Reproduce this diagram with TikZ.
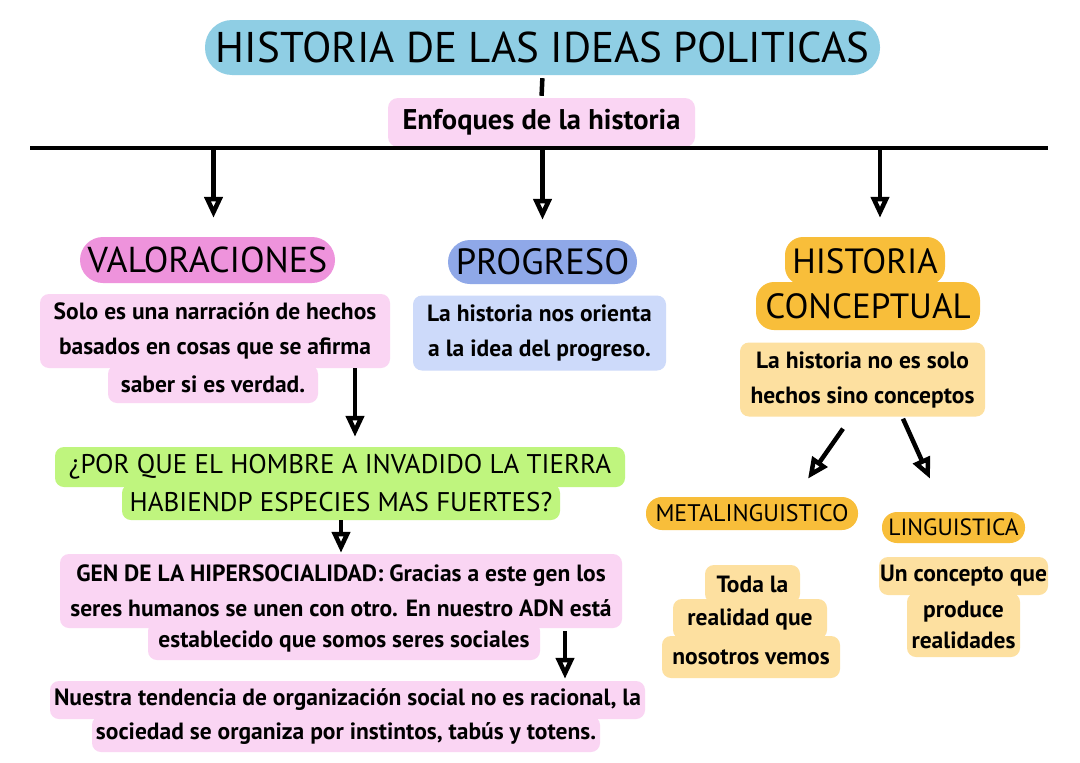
\documentclass[tikz,border=0pt]{standalone}
\usepackage{fontspec}
\setmainfont{PT Sans}
\usetikzlibrary{arrows.meta}
\newlength{\du}
\setlength{\du}{1pt}
\definecolor{titleblue}{RGB}{143,206,228}
\definecolor{pinklight}{RGB}{250,213,243}
\definecolor{orchid}{RGB}{238,147,220}
\definecolor{periwinkle}{RGB}{143,168,232}
\definecolor{paleblue}{RGB}{205,218,250}
\definecolor{orangehl}{RGB}{248,190,58}
\definecolor{paleorange}{RGB}{253,224,160}
\definecolor{limehl}{RGB}{191,245,126}
\begin{document}
\begin{tikzpicture}[x=1\du,y=-1\du,
  box/.style={inner sep=0pt,align=center,text=black},
  pill/.style={box,rounded corners=#1},
  txt/.style={font=\bfseries\fontsize{23.5\du}{35\du}\selectfont},
  head/.style={font=\fontsize{#1}{#1}\selectfont},
  arr/.style={line width=4.5\du,line join=round,
    -{Triangle[open,length=21pt,width=18pt]}}]
\useasboundingbox[fill=white] (0,0) rectangle (1080,763);
% top of the map
\node[pill=27\du,fill=titleblue,minimum width=675\du,minimum height=55\du,head=43\du] (title) at (542.5,47.5) {HISTORIA DE LAS IDEAS POLITICAS};
\node[pill=10\du,fill=pinklight,minimum width=307\du,minimum height=49\du,font=\bfseries\fontsize{28.5\du}{28\du}\selectfont] (enfoques) at (541.5,122.5) {Enfoques de la historia};
\draw[line width=4.5\du,shorten <=3\du,shorten >=2\du] (title.south) -- (enfoques.north);
\coordinate (barL) at (30,148);
\coordinate (barR) at (1048,148);
\draw[line width=4\du] (barL) -- (barR);
% first column
\node[pill=23\du,fill=orchid,minimum width=255\du,minimum height=46\du,head=36\du] (valor) at (207.5,260) {VALORACIONES};
\node[pill=9\du,fill=pinklight,minimum width=350\du,minimum height=74\du,txt] (valAB) at (215,331) {Solo es una narración de hechos\\basados en cosas que se afirma};
\node[pill=9\du,fill=pinklight,minimum width=210\du,minimum height=38\du,txt] (valC) at (213,384) {saber si es verdad.};
% second column
\node[pill=22\du,fill=periwinkle,minimum width=189\du,minimum height=44\du,head=36.5\du] (prog) at (542.5,262) {PROGRESO};
\node[pill=9\du,fill=paleblue,minimum width=253\du,minimum height=75\du,txt] (progTxt) at (539.5,333) {La historia nos orienta\\a la idea del progreso.};
% third column
\node[pill=18\du,fill=orangehl,minimum width=160\du,minimum height=48\du,head=35\du] (conceptA) at (865,261) {HISTORIA};
\node[pill=18\du,fill=orangehl,minimum width=224\du,minimum height=48\du,head=35\du] (conceptB) at (868,306) {CONCEPTUAL};
\node[pill=9\du,fill=paleorange,minimum width=245\du,minimum height=74\du,txt] (conceptTxt) at (862.5,379.5) {La historia no es solo\\hechos sino conceptos};
% question and what follows
\node[pill=9\du,fill=limehl,minimum width=570\du,minimum height=40\du,head=27\du] (qA) at (340,467) {¿POR QUE EL HOMBRE A INVADIDO LA TIERRA};
\node[pill=9\du,fill=limehl,minimum width=438\du,minimum height=36\du,head=27\du] (qB) at (341,502) {HABIENDP ESPECIES MAS FUERTES?};
\node[pill=9\du,fill=pinklight,minimum width=562\du,minimum height=74\du,txt] (genAB) at (341,591) {GEN DE LA HIPERSOCIALIDAD: Gracias a este gen los\\seres humanos se unen con otro. En nuestro ADN está};
\node[pill=9\du,fill=pinklight,minimum width=392\du,minimum height=38\du,txt] (genC) at (344,641) {establecido que somos seres sociales};
\node[pill=9\du,fill=pinklight,minimum width=595\du,minimum height=38\du,txt] (botA) at (347.5,700) {Nuestra tendencia de organización social no es racional, la};
\node[pill=9\du,fill=pinklight,minimum width=508\du,minimum height=36\du,txt] (botB) at (346,734) {sociedad se organiza por instintos, tabús y totens.};
% kinds of concept
\node[pill=16\du,fill=orangehl,minimum width=212\du,minimum height=33\du,head=24\du] (meta) at (752,513.5) {METALINGUISTICO};
\node[pill=15\du,fill=orangehl,minimum width=143\du,minimum height=31\du,head=23.5\du] (ling) at (953.5,527.5) {LINGUISTICA};
\node[pill=9\du,fill=paleorange,minimum width=95\du,minimum height=38\du,txt] (todaA) at (752.5,584) {Toda la};
\node[pill=9\du,fill=paleorange,minimum width=154\du,minimum height=40\du,txt] (todaB) at (750,619) {realidad que};
\node[pill=9\du,fill=paleorange,minimum width=178\du,minimum height=42\du,txt] (todaC) at (751,657) {nosotros vemos};
\node[pill=9\du,fill=paleorange,minimum width=169\du,minimum height=38\du,txt] (uconA) at (963.5,576) {Un concepto que};
\node[pill=9\du,fill=paleorange,minimum width=113\du,minimum height=64\du,font=\bfseries\fontsize{23.5\du}{31\du}\selectfont] (uconBC) at (963.5,625) {produce\\realidades};
% arrows
\coordinate (valTop) at ([xshift=6\du]valor.north);
\coordinate (conTop) at ([xshift=15\du]conceptA.north);
\draw[arr,shorten >=19\du] (valTop |- barL) -- (valTop);
\draw[arr,shorten >=20\du] (prog.north |- barL) -- (prog.north);
\draw[arr,shorten >=19\du] (conTop |- barL) -- (conTop);
\draw[arr,shorten >=10\du] ([xshift=140\du]valAB.south) -- ([xshift=15\du]qA.north);
\draw[arr,shorten >=1\du] (qB.south) -- (genAB.north);
\draw[arr,shorten <=3\du,shorten >=2\du] ([xshift=224\du]genAB.south) -- ([xshift=217.5\du]botA.north);
\draw[arr] ([xshift=-19.5\du]conceptTxt.south) ++(0,12) -- ++(-35,50);
\draw[arr] ([xshift=40.5\du]conceptTxt.south) ++(0,2) -- ++(27,60);
\end{tikzpicture}
\end{document}
